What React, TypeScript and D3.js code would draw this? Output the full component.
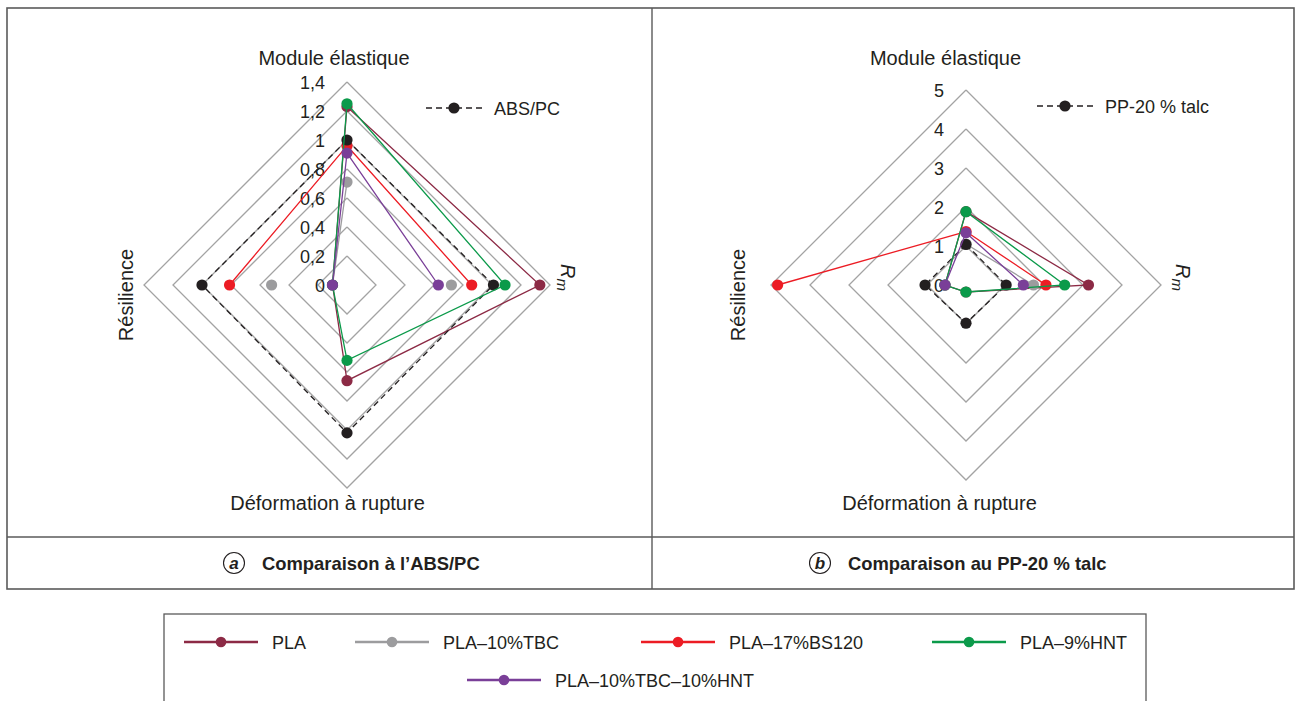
import React from "react";
import * as d3 from "d3";

// ---------- data ----------
const AXES = ["Module élastique", "Rm", "Déformation à rupture", "Résilience"];
const SERIES = ["PLA", "PLA–10%TBC", "PLA–17%BS120", "PLA–9%HNT", "PLA–10%TBC–10%HNT"];
const SERIES_COLORS = ["#8c2a45", "#9c9c9e", "#ec1c24", "#0b9a4a", "#7a3f98"];
const REF_COLOR = "#231f20";

// order of values: Module élastique, Rm, Déformation à rupture, Résilience
const A_TICKS = ["0", "0,2", "0,4", "0,6", "0,8", "1", "1,2", "1,4"];
const A_TICK_VALUES = [0, 0.2, 0.4, 0.6, 0.8, 1.0, 1.2, 1.4];
const A_REF_NAME = "ABS/PC";
const A_REF = [1.0, 1.01, 1.02, 1.0];
const A_PLA = [1.23, 1.33, 0.66, 0.1];
const A_TBC = [0.71, 0.72, null, 0.52];
const A_TBC_LINE = [0.71, null, null, 0.1];
const A_BS = [0.96, 0.86, null, 0.81];
const A_HNT = [1.25, 1.09, 0.52, 0.1];
const A_TBCHNT = [0.91, 0.63, null, 0.1];

const B_TICKS = ["0", "1", "2", "3", "4", "5"];
const B_TICK_VALUES = [0, 1, 2, 3, 4, 5];
const B_REF_NAME = "PP-20 % talc";
const B_REF = [1.04, 1.03, 0.98, 1.05];
const B_PLA = [1.88, 3.14, 0.18, 0.54];
const B_TBC = [1.05, 1.73, null, null];
const B_BS = [1.37, 2.05, null, 4.83];
const B_HNT = [1.88, 2.53, 0.18, 0.54];
const B_TBCHNT = [1.34, 1.47, null, 0.54];

const CAPTION_A = "Comparaison à l’ABS/PC";
const CAPTION_B = "Comparaison au PP-20 % talc";

type V = (number | null)[];

const FONT = "'Liberation Sans', Arial, Helvetica, sans-serif";
const DIRS = [
  [0, -1],
  [1, 0],
  [0, 1],
  [-1, 0],
];

interface PanelProps {
  cx: number;
  cy: number;
  maxVal: number;
  radius: number;
  tickValues: number[];
  ticks: string[];
  refName: string;
  ref: V;
  series: { markers: V; line: V }[];
  legendX: number;
  legendY: number;
  moduleX: number;
  deformX: number;
  resX: number;
  rmX: number;
}

function Panel(p: PanelProps) {
  const r = d3.scaleLinear().domain([0, p.maxVal]).range([0, p.radius]);
  const pt = (i: number, v: number): [number, number] => [
    p.cx + DIRS[i][0] * r(v),
    p.cy + DIRS[i][1] * r(v),
  ];
  const lineGen = d3
    .line<{ i: number; v: number | null }>()
    .defined((d) => d.v !== null)
    .x((d) => pt(d.i, d.v as number)[0])
    .y((d) => pt(d.i, d.v as number)[1]);
  const closed = (vals: V) => {
    const arr = vals.map((v, i) => ({ i, v }));
    arr.push({ i: 0, v: vals[0] });
    return lineGen(arr) || "";
  };
  const rings = p.tickValues.filter((t) => t > 0);

  const drawSeries = (markers: V, line: V, color: string, dashed: boolean, key: string) => (
    <g key={key}>
      <path
        d={closed(line)}
        fill="none"
        stroke={color}
        strokeWidth={1.3}
        strokeDasharray={dashed ? "6,4" : undefined}
      />
      {markers.map((v, i) =>
        v === null ? null : (
          <circle key={i} cx={pt(i, v)[0]} cy={pt(i, v)[1]} r={5.6} fill={color} />
        )
      )}
    </g>
  );

  const order = [0, 1, 2, -1, 3, 4];

  return (
    <g>
      {rings.map((t) => (
        <path
          key={t}
          d={closed([t, t, t, t])}
          fill="none"
          stroke="#a3a3a3"
          strokeWidth={1.3}
        />
      ))}
      {p.tickValues.map((t, k) => (
        <text
          key={t}
          x={p.cx - 22}
          y={p.cy - r(t) + 6.5}
          textAnchor="end"
          fontSize={18}
          fontFamily={FONT}
          fill="#231f20"
        >
          {p.ticks[k]}
        </text>
      ))}
      {order.map((k) =>
        k === -1
          ? drawSeries(p.ref, p.ref, REF_COLOR, true, "ref")
          : drawSeries(p.series[k].markers, p.series[k].line, SERIES_COLORS[k], false, "s" + k)
      )}
      {/* reference legend */}
      <line
        x1={p.legendX}
        x2={p.legendX + 56}
        y1={p.legendY}
        y2={p.legendY}
        stroke={REF_COLOR}
        strokeWidth={1.3}
        strokeDasharray="6,4"
      />
      <circle cx={p.legendX + 28} cy={p.legendY} r={5.6} fill={REF_COLOR} />
      <text
        x={p.legendX + 68}
        y={p.legendY + 6.5}
        fontSize={18}
        fontFamily={FONT}
        fill="#231f20"
      >
        {p.refName}
      </text>
      {/* axis labels */}
      <text x={p.moduleX} y={65} textAnchor="middle" fontSize={20} fontFamily={FONT} fill="#231f20">
        {AXES[0]}
      </text>
      <text x={p.deformX} y={510} textAnchor="middle" fontSize={20} fontFamily={FONT} fill="#231f20">
        {AXES[2]}
      </text>
      <text
        transform={`translate(${p.resX},295) rotate(-90)`}
        textAnchor="middle"
        fontSize={20}
        fontFamily={FONT}
        fill="#231f20"
      >
        {AXES[3]}
      </text>
      <text
        transform={`translate(${p.rmX},264) rotate(90)`}
        fontSize={20}
        fontFamily={FONT}
        fill="#231f20"
      >
        <tspan fontStyle="italic">{AXES[1].charAt(0)}</tspan>
        <tspan fontStyle="italic" fontSize={15} dy={4}>
          {AXES[1].charAt(1)}
        </tspan>
      </text>
    </g>
  );
}

function Caption({ x, letter, text }: { x: number; letter: string; text: string }) {
  return (
    <g>
      <circle cx={x} cy={563} r={10.5} fill="none" stroke="#231f20" strokeWidth={1.1} />
      <text
        x={x}
        y={569}
        textAnchor="middle"
        fontSize={17}
        fontWeight="bold"
        fontStyle="italic"
        fontFamily={FONT}
        fill="#231f20"
      >
        {letter}
      </text>
      <text x={x + 28} y={569.5} fontSize={18.4} fontWeight="bold" fontFamily={FONT} fill="#231f20">
        {text}
      </text>
    </g>
  );
}

export default function App() {
  const aSeries = [
    { markers: A_PLA, line: A_PLA },
    { markers: A_TBC, line: A_TBC_LINE },
    { markers: A_BS, line: A_BS },
    { markers: A_HNT, line: A_HNT },
    { markers: A_TBCHNT, line: A_TBCHNT },
  ];
  const bSeries = [
    { markers: B_PLA, line: B_PLA },
    { markers: B_TBC, line: B_TBC },
    { markers: B_BS, line: B_BS },
    { markers: B_HNT, line: B_HNT },
    { markers: B_TBCHNT, line: B_TBCHNT },
  ];
  const legendRow1 = [
    { k: 0, x: 184, y: 642 },
    { k: 1, x: 355, y: 642 },
    { k: 2, x: 641, y: 642 },
    { k: 3, x: 932, y: 642 },
    { k: 4, x: 467, y: 680 },
  ];
  const frame = "#5a5a5a";
  return (
    <svg
      width={1298}
      height={701}
      style={{ position: "absolute", left: 0, top: 0, background: "#fff" }}
    >
      <rect x={0} y={0} width={1298} height={701} fill="#fff" />
      {/* frame */}
      <rect x={7} y={8} width={1287} height={581} fill="none" stroke={frame} strokeWidth={1.6} />
      <line x1={652} x2={652} y1={8} y2={589} stroke={frame} strokeWidth={1.4} />
      <line x1={7} x2={1294} y1={537} y2={537} stroke={frame} strokeWidth={1.4} />

      <Panel
        cx={347}
        cy={285}
        maxVal={1.4}
        radius={203}
        tickValues={A_TICK_VALUES}
        ticks={A_TICKS}
        refName={A_REF_NAME}
        ref={A_REF}
        series={aSeries}
        legendX={426}
        legendY={108}
        moduleX={334}
        deformX={327.5}
        resX={133}
        rmX={561}
      />
      <Panel
        cx={966}
        cy={285}
        maxVal={5}
        radius={195}
        tickValues={B_TICK_VALUES}
        ticks={B_TICKS}
        refName={B_REF_NAME}
        ref={B_REF}
        series={bSeries}
        legendX={1037}
        legendY={106}
        moduleX={945.5}
        deformX={939.5}
        resX={745}
        rmX={1176}
      />

      <Caption x={234} letter="a" text={CAPTION_A} />
      <Caption x={820} letter="b" text={CAPTION_B} />

      {/* legend */}
      <rect x={164} y={614} width={982} height={100} fill="none" stroke={frame} strokeWidth={1.3} />
      {legendRow1.map(({ k, x, y }) => (
        <g key={k}>
          <line x1={x} x2={x + 74} y1={y} y2={y} stroke={SERIES_COLORS[k]} strokeWidth={2.6} />
          <circle cx={x + 37} cy={y} r={5.3} fill={SERIES_COLORS[k]} />
          <text x={x + 88} y={y + 6.5} fontSize={18} fontFamily={FONT} fill="#231f20">
            {SERIES[k]}
          </text>
        </g>
      ))}
    </svg>
  );
}
